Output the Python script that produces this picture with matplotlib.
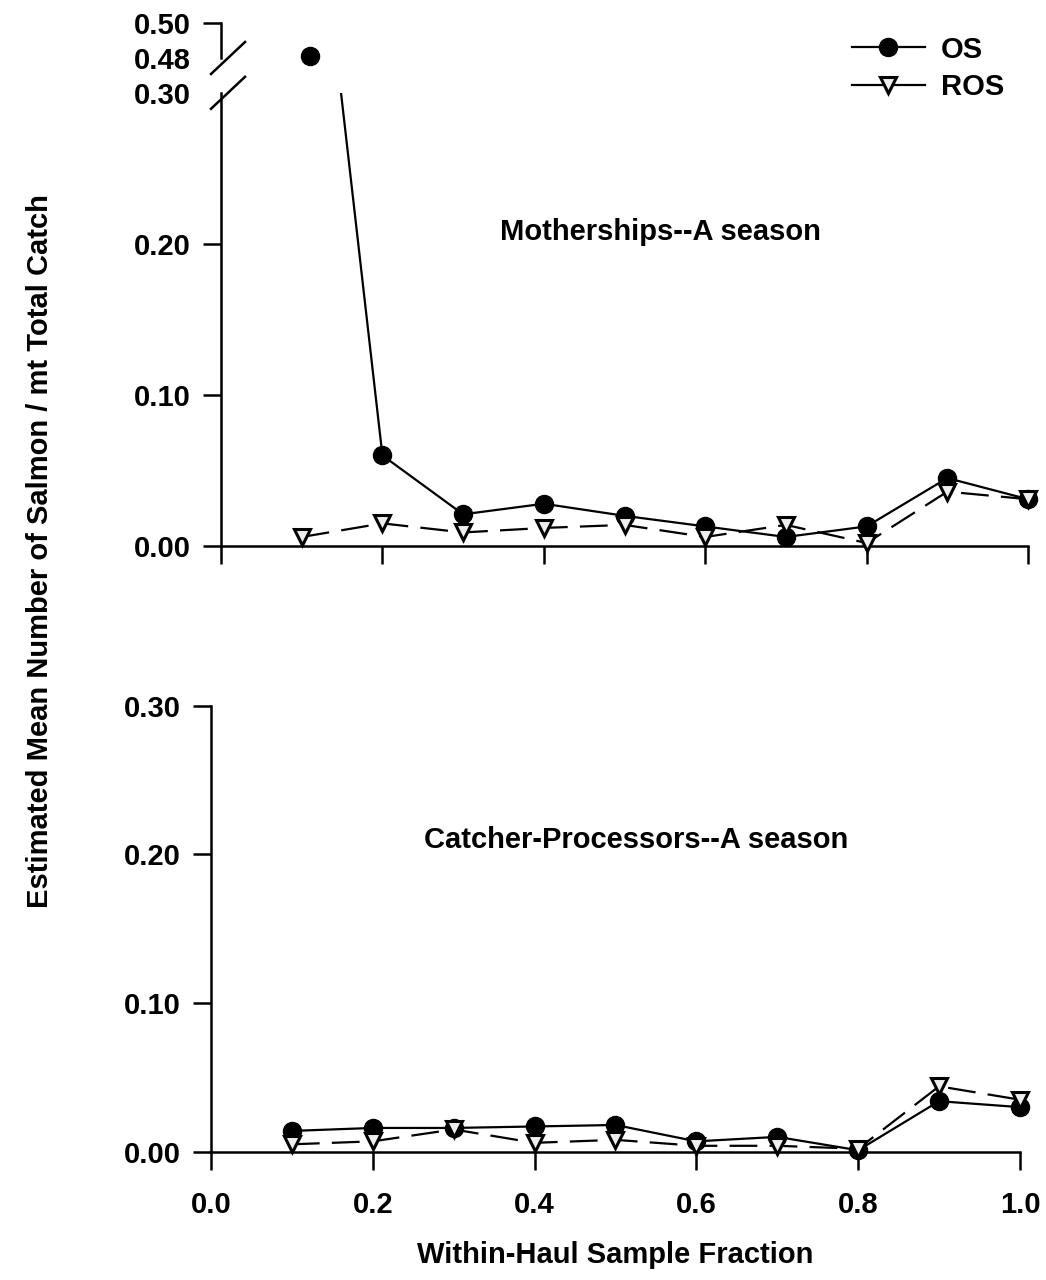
import matplotlib
matplotlib.use("Agg")
import matplotlib.pyplot as plt
from matplotlib.lines import Line2D
from matplotlib.ticker import FormatStrFormatter
import numpy as np

plt.rcParams['font.family'] = ['Liberation Sans', 'DejaVu Sans']
plt.rcParams['font.weight'] = 'bold'

# ---- data -------------------------------------------------------------
# Motherships, A season
ms_x_os = [0.11, 0.20, 0.30, 0.40, 0.50, 0.60, 0.70, 0.80, 0.90, 1.00]
ms_os = [0.481, 0.060, 0.021, 0.028, 0.020, 0.013, 0.006, 0.013, 0.045, 0.031]
ms_x_ros = [0.10, 0.20, 0.30, 0.40, 0.50, 0.60, 0.70, 0.80, 0.90, 1.00]
ms_ros = [0.006, 0.015, 0.009, 0.012, 0.014, 0.006, 0.014, 0.002, 0.036, 0.031]

# Catcher-processors, A season
cp_x = [0.10, 0.20, 0.30, 0.40, 0.50, 0.60, 0.70, 0.80, 0.90, 1.00]
cp_os = [0.014, 0.016, 0.016, 0.017, 0.018, 0.007, 0.010, 0.001, 0.034, 0.030]
cp_ros = [0.005, 0.007, 0.015, 0.006, 0.008, 0.004, 0.004, 0.002, 0.044, 0.035]

x_ticks = [0.0, 0.2, 0.4, 0.6, 0.8, 1.0]
y_ticks_low = [0.00, 0.10, 0.20, 0.30]
y_ticks_high = [0.48, 0.50]

# ---- styles -----------------------------------------------------------
FS = 21
SPINE_LW = 1.8
LINE_LW = 1.6
os_marker = dict(marker='o', ms=13, markerfacecolor='black',
                 markeredgecolor='black')
ros_marker = dict(marker='v', ms=12, markerfacecolor='#eeeeee',
                  markeredgecolor='black', markeredgewidth=2.2)
os_style = dict(color='black', lw=LINE_LW, **os_marker)
ros_style = dict(color='black', lw=LINE_LW, dashes=(12.5, 5.5), **ros_marker)

fig = plt.figure(figsize=(10.46, 12.8), dpi=100)


def style_axis(ax, show_bottom=True):
    for s in ['top', 'right']:
        ax.spines[s].set_visible(False)
    ax.spines['left'].set_linewidth(SPINE_LW)
    ax.spines['bottom'].set_linewidth(SPINE_LW)
    ax.spines['bottom'].set_visible(show_bottom)
    ax.tick_params(direction='out', length=13, width=SPINE_LW,
                   labelsize=FS, pad=9)
    ax.yaxis.set_major_formatter(FormatStrFormatter('%.2f'))


# ---- top panel: lower part (0 - 0.30) ---------------------------------
ax_t = fig.add_axes([0.2113, 0.5734, 0.7715, 0.3541])
style_axis(ax_t)
ax_t.set_xlim(0, 1.0)
ax_t.set_ylim(0, 0.30)
ax_t.set_xticks(x_ticks)
ax_t.set_xticklabels([])
ax_t.set_yticks(y_ticks_low)
ax_t.yaxis.get_major_ticks()[-1].tick1line.set_visible(False)

# OS line is clipped at the break; its in-range markers are drawn unclipped
ax_t.plot(ms_x_os, ms_os, color='black', lw=LINE_LW, zorder=3)
lo = np.array(ms_os) <= 0.30
ax_t.plot(np.array(ms_x_os)[lo], np.array(ms_os)[lo], linestyle='none',
          clip_on=False, zorder=3, **os_marker)
ax_t.plot(ms_x_ros, ms_ros, zorder=4, clip_on=False, **ros_style)
ax_t.text(0.545, 0.2025, 'Motherships--A season', ha='center',
          va='baseline', fontsize=FS)

# ---- top panel: upper part (0.48 - 0.50) ------------------------------
ax_u = fig.add_axes([0.2113, 0.9547, 0.7715, 0.0276])
style_axis(ax_u, show_bottom=False)
ax_u.set_xlim(0, 1.0)
ax_u.set_ylim(0.48, 0.50)
ax_u.set_xticks([])
ax_u.set_yticks(y_ticks_high)
ax_u.yaxis.get_major_ticks()[0].tick1line.set_visible(False)
ax_u.patch.set_alpha(0)
hi = np.array(ms_os) >= 0.48
ax_u.plot(np.array(ms_x_os)[hi], np.array(ms_os)[hi], linestyle='none',
          clip_on=False, zorder=4, **os_marker)

# axis break marks
W, H = 1046.0, 1280.0
bx = 0.2113
for by in (0.9547, 0.5734 + 0.3541):
    fig.add_artist(Line2D([bx - 10 / W, bx + 24 / W],
                          [by - 16 / H, by + 16 / H],
                          transform=fig.transFigure, color='black',
                          lw=SPINE_LW))

# ---- bottom panel ------------------------------------------------------
ax_b = fig.add_axes([0.2017, 0.1002, 0.7734, 0.3485])
style_axis(ax_b)
ax_b.set_xlim(0, 1.0)
ax_b.set_ylim(0, 0.30)
ax_b.set_xticks(x_ticks)
ax_b.xaxis.set_major_formatter(FormatStrFormatter('%.1f'))
ax_b.tick_params(axis='x', pad=15)
ax_b.set_yticks(y_ticks_low)
ax_b.plot(cp_x, cp_os, zorder=3, clip_on=False, **os_style)
ax_b.plot(cp_x, cp_ros, zorder=4, clip_on=False, **ros_style)
ax_b.text(0.526, 0.2044, 'Catcher-Processors--A season', ha='center',
          va='baseline', fontsize=FS)

# ---- labels and legend -------------------------------------------------
fig.text(615 / W, 1 - 1263 / H, 'Within-Haul Sample Fraction',
         ha='center', va='baseline', fontsize=FS)
fig.text(48 / W, 1 - 551.5 / H,
         'Estimated Mean Number of Salmon / mt Total Catch',
         rotation=90, rotation_mode='anchor', ha='center', va='baseline',
         fontsize=FS)

handles = [
    Line2D([], [], color='black', lw=LINE_LW, **os_marker),
    Line2D([], [], color='black', lw=LINE_LW, **ros_marker),
]
fig.legend(handles, ['OS', 'ROS'], loc='upper left',
           bbox_to_anchor=(852 / W, 1 - 35.5 / H), frameon=False,
           fontsize=FS, handlelength=2.5, handletextpad=0.55,
           labelspacing=0.34, borderpad=0, borderaxespad=0)

fig.savefig('out.png', dpi=100)
